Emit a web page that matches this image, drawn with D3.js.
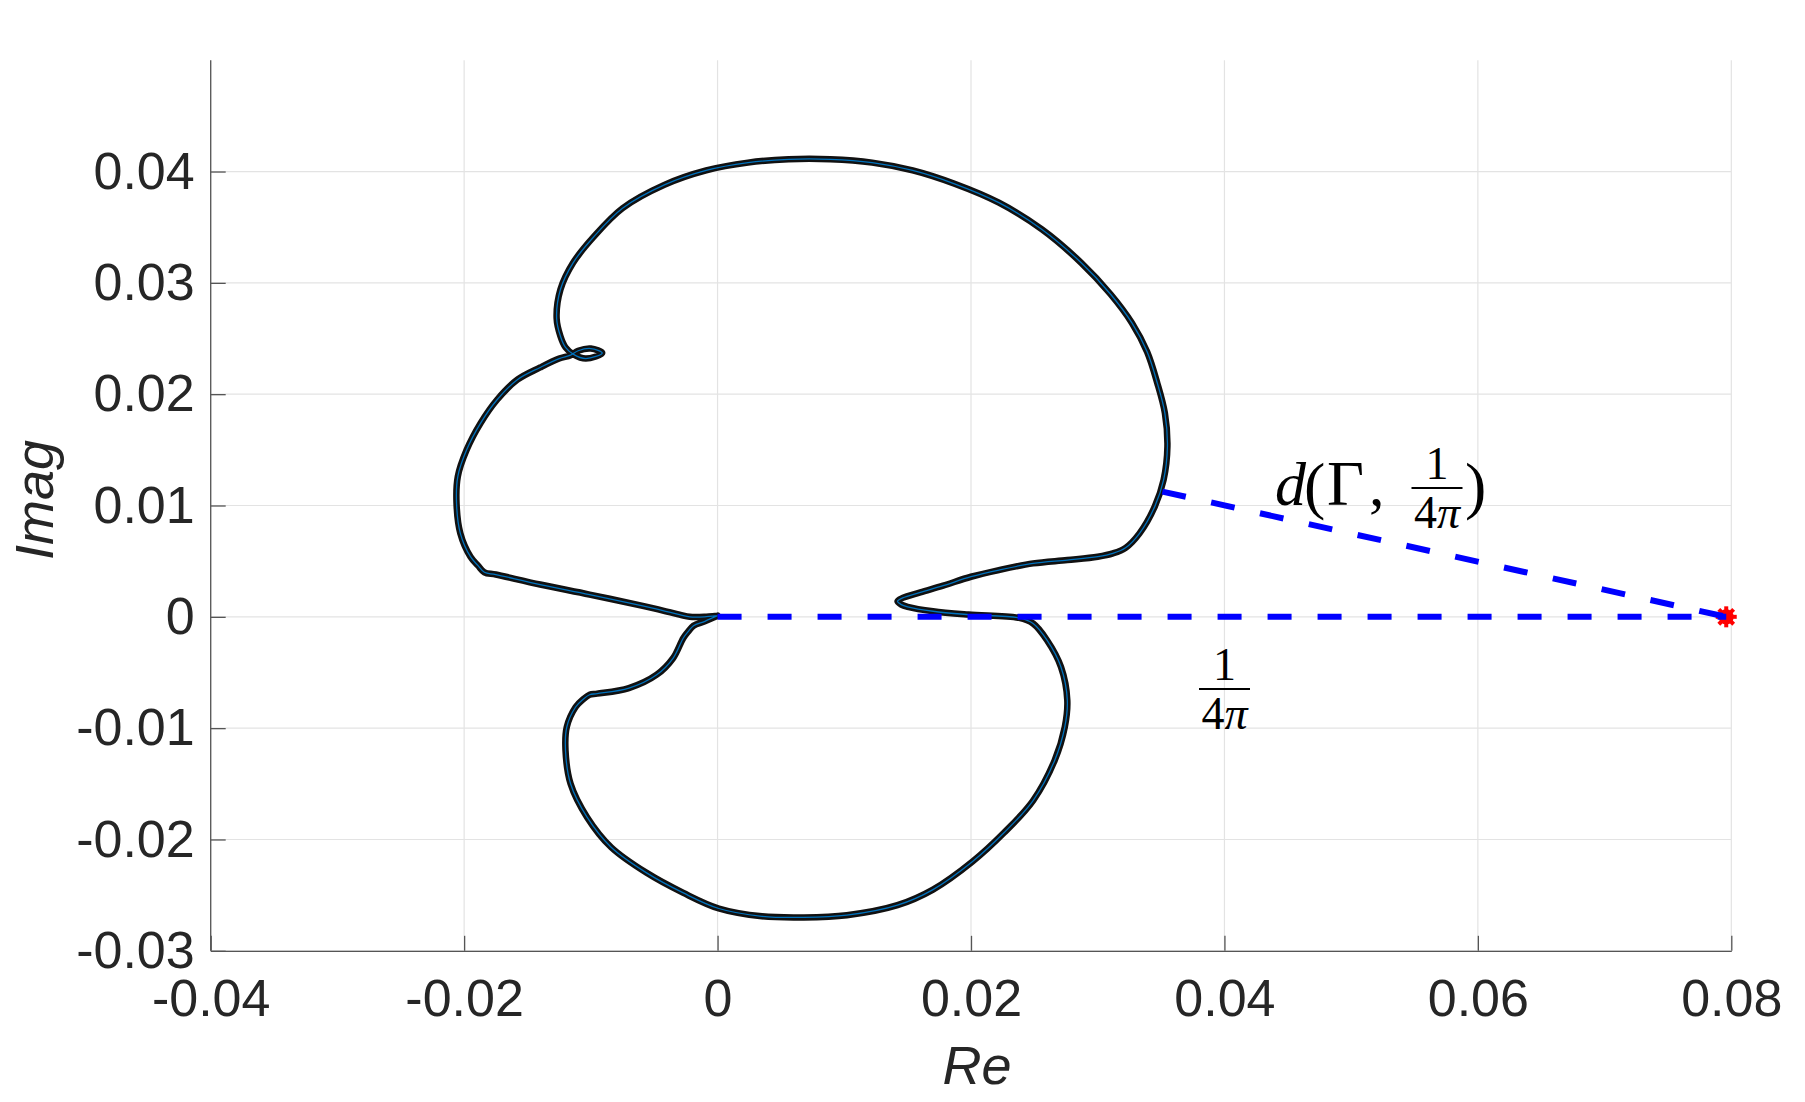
<!DOCTYPE html>
<html>
<head>
<meta charset="utf-8">
<script src="https://cdn.jsdelivr.net/npm/d3@7"></script>
<style>
  html, body { margin: 0; padding: 0; background: #ffffff; }
  svg { display: block; }
</style>
</head>
<body>
<svg id="chart" width="1805" height="1102"></svg>
<script>
// ---------------- data ----------------
const xTicks = [-0.04, -0.02, 0, 0.02, 0.04, 0.06, 0.08];
const xTickLabels = ["-0.04", "-0.02", "0", "0.02", "0.04", "0.06", "0.08"];
const yTicks = [-0.03, -0.02, -0.01, 0, 0.01, 0.02, 0.03, 0.04];
const yTickLabels = ["-0.03", "-0.02", "-0.01", "0", "0.01", "0.02", "0.03", "0.04"];

// Nyquist-like contour Gamma (real and imaginary parts)
const curveRe = [
  0.0000, -0.0010, -0.0019, -0.0023, -0.0027, -0.0035, -0.0048, -0.0070, -0.0095, -0.0101,
  -0.0106, -0.0112, -0.0119, -0.0120, -0.0116, -0.0103, -0.0084, -0.0056, -0.0027, 0.0001,
  0.0035, 0.0068, 0.0102, 0.0142, 0.0170, 0.0201, 0.0226, 0.0249, 0.0266, 0.0274,
  0.0276, 0.0271, 0.0260, 0.0249, 0.0238, 0.0198, 0.0170, 0.0150, 0.0145, 0.0142,
  0.0146, 0.0160, 0.0178, 0.0200, 0.0222, 0.0249, 0.0276, 0.0300, 0.0312, 0.0322,
  0.0333, 0.0345, 0.0352, 0.0355, 0.0353, 0.0347, 0.0339, 0.0327, 0.0310, 0.0287,
  0.0256, 0.0222, 0.0187, 0.0154, 0.0122, 0.0089, 0.0056, 0.0024, -0.0009, -0.0042,
  -0.0075, -0.0098, -0.0114, -0.0124, -0.0127, -0.0124, -0.0120, -0.0114, -0.0104, -0.0091,
  -0.0100, -0.0110, -0.0116, -0.0125, -0.0140, -0.0158, -0.0174, -0.0187, -0.0198, -0.0205,
  -0.0206, -0.0203, -0.0195, -0.0189, -0.0184, -0.0175, -0.0140, -0.0101, -0.0060, -0.0030,
  -0.0022, -0.0010, 0.0000
];
const curveIm = [
  0.0001, -0.0004, -0.0008, -0.0013, -0.0019, -0.0037, -0.0052, -0.0064, -0.0069, -0.0070,
  -0.0074, -0.0081, -0.0099, -0.0120, -0.0150, -0.0180, -0.0207, -0.0230, -0.0248, -0.0262,
  -0.0269, -0.0270, -0.0268, -0.0259, -0.0245, -0.0220, -0.0194, -0.0165, -0.0129, -0.0099,
  -0.0075, -0.0045, -0.0021, -0.0006, -0.0001, 0.0002, 0.0005, 0.0009, 0.0011, 0.0014,
  0.0017, 0.0022, 0.0028, 0.0036, 0.0042, 0.0048, 0.0051, 0.0054, 0.0057, 0.0062,
  0.0075, 0.0099, 0.0123, 0.0153, 0.0183, 0.0210, 0.0238, 0.0264, 0.0290, 0.0318,
  0.0348, 0.0372, 0.0389, 0.0401, 0.0408, 0.0411, 0.0411, 0.0408, 0.0401, 0.0388,
  0.0367, 0.0341, 0.0318, 0.0294, 0.0268, 0.0252, 0.0242, 0.0236, 0.0232, 0.0237,
  0.0241, 0.0239, 0.0235, 0.0232, 0.0224, 0.0213, 0.0195, 0.0174, 0.0150, 0.0126,
  0.0102, 0.0075, 0.0054, 0.0046, 0.0040, 0.0038, 0.0029, 0.0020, 0.0010, 0.0002,
  0.0000, 0.0000, 0.0001
];

// critical point 1/(4*pi) on the real axis, and the nearest point of Gamma
const criticalRe = [0.0796];
const criticalIm = [0];
const nearestRe = [0.0351];
const nearestIm = [0.01125];

// ---------------- layout ----------------
const plotLeft = 210.7, plotRight = 1731.3, plotTop = 60.2, plotBottom = 950.8;
const textColor = "#262626";
const sans = "'Liberation Sans', Arial, Helvetica, sans-serif";
const serif = "'Liberation Serif', 'Times New Roman', serif";

const svg = d3.select("#chart");

const x = d3.scaleLinear().domain([-0.04, 0.08]).range([plotLeft, plotRight]);
const y = d3.scaleLinear().domain([-0.03, 0.05]).range([plotBottom, plotTop]);

// grid
const grid = svg.append("g");
grid.selectAll(".vg").data(xTicks).enter().append("line")
  .attr("x1", d => x(d)).attr("x2", d => x(d))
  .attr("y1", plotTop).attr("y2", plotBottom)
  .attr("stroke", "#e3e3e3").attr("stroke-width", 1.2);
grid.selectAll(".hg").data(yTicks).enter().append("line")
  .attr("x1", plotLeft).attr("x2", plotRight)
  .attr("y1", d => y(d)).attr("y2", d => y(d))
  .attr("stroke", "#e3e3e3").attr("stroke-width", 1.2);

// axes
const xAxis = d3.axisBottom(x)
  .tickValues(xTicks)
  .tickFormat((d, i) => xTickLabels[i])
  .tickSizeInner(-15).tickSizeOuter(0).tickPadding(28);
const yAxis = d3.axisLeft(y)
  .tickValues(yTicks)
  .tickFormat((d, i) => yTickLabels[i])
  .tickSizeInner(-15).tickSizeOuter(0).tickPadding(16);

const gx = svg.append("g").attr("transform", `translate(0,${plotBottom})`).call(xAxis);
const gy = svg.append("g").attr("transform", `translate(${plotLeft},0)`).call(yAxis);
[gx, gy].forEach(g => {
  g.select(".domain").attr("stroke", "#555").attr("stroke-width", 1.3);
  g.selectAll(".tick line").attr("stroke", "#555").attr("stroke-width", 1.3);
  g.selectAll(".tick text").attr("fill", textColor)
    .style("font-family", sans).style("font-size", "52px");
});
gy.select(".domain").attr("d", `M0,${plotBottom}V${plotTop}`);

// axis labels
svg.append("text")
  .attr("x", 977).attr("y", 1084)
  .attr("text-anchor", "middle")
  .style("font-family", sans).style("font-size", "54px").style("font-style", "italic")
  .attr("fill", textColor).text("Re");
svg.append("text")
  .attr("transform", "translate(53,500) rotate(-90)")
  .attr("text-anchor", "middle")
  .style("font-family", sans).style("font-size", "54px").style("font-style", "italic")
  .attr("fill", textColor).text("Imag");

// ---------------- curve ----------------
const pts = curveRe.map((r, i) => [r, curveIm[i]]);
const line = d3.line()
  .x(d => x(d[0])).y(d => y(d[1]))
  .curve(d3.curveCatmullRom.alpha(0.5));

svg.append("path").datum(pts)
  .attr("d", line)
  .attr("fill", "none").attr("stroke", "#111").attr("stroke-width", 6.5)
  .attr("stroke-linejoin", "round").attr("stroke-linecap", "round");
svg.append("path").datum(pts)
  .attr("d", line)
  .attr("fill", "none").attr("stroke", "#0072BD").attr("stroke-width", 1.3)
  .attr("stroke-linejoin", "round");

// ---------------- critical point marker ----------------
const cx = x(criticalRe[0]), cy = y(criticalIm[0]);
const star = svg.append("g").attr("transform", `translate(${cx},${cy})`);
star.append("circle").attr("r", 7.5).attr("fill", "#ff0000");
[0, 45, 90, 135].forEach(a => {
  star.append("line")
    .attr("x1", -10.5).attr("x2", 10.5).attr("y1", 0).attr("y2", 0)
    .attr("transform", `rotate(${a})`)
    .attr("stroke", "#ff0000").attr("stroke-width", 4);
});

// ---------------- dashed distance lines ----------------
svg.append("line")
  .attr("x1", x(0)).attr("y1", y(0))
  .attr("x2", x(criticalRe[0])).attr("y2", y(criticalIm[0]))
  .attr("stroke", "#0000ff").attr("stroke-width", 6)
  .attr("stroke-dasharray", "24,26");
svg.append("line")
  .attr("x1", x(nearestRe[0])).attr("y1", y(nearestIm[0]))
  .attr("x2", x(criticalRe[0])).attr("y2", y(criticalIm[0]))
  .attr("stroke", "#0000ff").attr("stroke-width", 6)
  .attr("stroke-dasharray", "24,26");

// ---------------- LaTeX-like annotations ----------------
function frac(cxp, barY, size) {
  const g = svg.append("g");
  g.append("text").attr("x", cxp).attr("y", barY - 9)
    .attr("text-anchor", "middle")
    .style("font-family", serif).style("font-size", size + "px")
    .attr("fill", "#000").text("1");
  g.append("line").attr("x1", cxp - 25.5).attr("x2", cxp + 25.5)
    .attr("y1", barY).attr("y2", barY)
    .attr("stroke", "#000").attr("stroke-width", 2);
  const den = g.append("text").attr("x", cxp).attr("y", barY + 40)
    .attr("text-anchor", "middle")
    .style("font-family", serif).style("font-size", size + "px")
    .attr("fill", "#000");
  den.append("tspan").text("4");
  den.append("tspan").style("font-style", "italic").text("π");
}

// d(Γ, 1/(4π))
const l1x = 1275, l1y = 505;
svg.append("text").attr("x", l1x).attr("y", l1y)
  .style("font-family", serif).style("font-size", "62px").style("font-style", "italic")
  .attr("fill", "#000").text("d");
svg.append("text").attr("x", l1x + 29).attr("y", l1y + 2)
  .style("font-family", serif).style("font-size", "64px")
  .attr("fill", "#000").text("(");
svg.append("text").attr("x", l1x + 52).attr("y", l1y)
  .style("font-family", serif).style("font-size", "64px")
  .attr("fill", "#000").text("Γ");
svg.append("text").attr("x", l1x + 94).attr("y", l1y)
  .style("font-family", serif).style("font-size", "62px")
  .attr("fill", "#000").text(",");
frac(1437, 488, 46);
svg.append("text").attr("x", l1x + 190).attr("y", l1y + 2)
  .style("font-family", serif).style("font-size", "64px")
  .attr("fill", "#000").text(")");

// 1/(4π)
frac(1224.5, 689, 46);
</script>
</body>
</html>
